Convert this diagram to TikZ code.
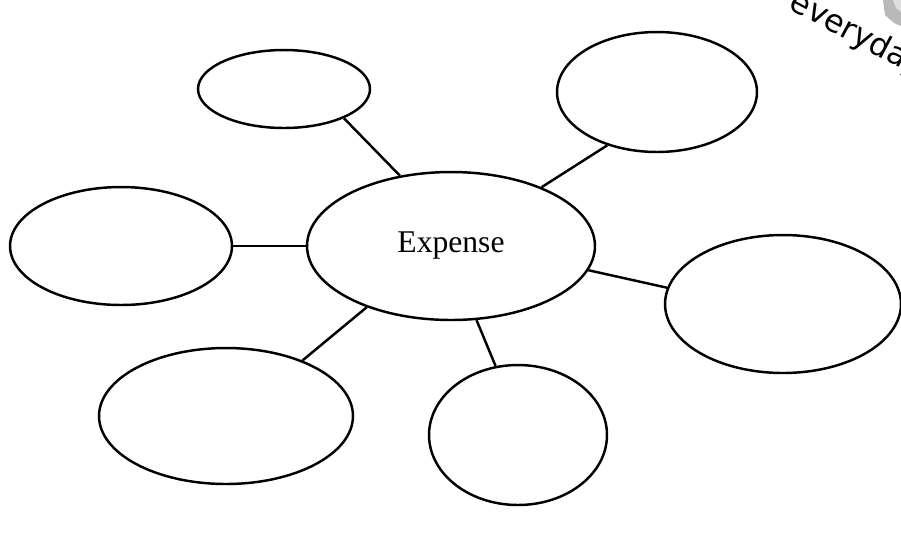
\documentclass[tikz,border=0pt]{standalone}
\usepackage{fontspec}
\setmainfont{Liberation Serif}
\newfontfamily\handfont{DejaVu Sans}
\usetikzlibrary{shapes.geometric}
\tikzset{
  bubble/.style={ellipse, draw=black, line width=1.4pt, fill=white, inner sep=0pt},
  spoke/.style={black, line width=1.4pt},
  hub/.style={bubble, font=\fontsize{18}{21}\selectfont},
}

\begin{document}
\begin{tikzpicture}[x=0.02cm, y=-0.02cm]
  \clip (0,0) rectangle (901,532);
  \useasboundingbox (0,0) rectangle (901,532);
  % corner tag
  \fill[gray!55] (883,0) -- (901,0) -- (901,26) -- (894,23) -- (885,15) -- cycle;
  \fill[gray!25] (893,0) -- (901,0) -- (901,12) -- (896,8) -- cycle;
  \node[font=\handfont\fontsize{18}{20}\selectfont, anchor=base, rotate=-28] (tag) at (853,43) {everyday};
  % hub and the six empty bubbles
  \node[hub, minimum width=5.76cm, minimum height=2.96cm] (exp) at (451,246) {Expense};
  \node[bubble, minimum width=3.44cm, minimum height=1.56cm] (tl) at (284,89) {};
  \node[bubble, minimum width=4.0cm, minimum height=2.4cm] (tr) at (657,92) {};
  \node[bubble, minimum width=4.44cm, minimum height=2.36cm] (lf) at (121,246) {};
  \node[bubble, minimum width=4.72cm, minimum height=2.76cm] (rt) at (783,304) {};
  \node[bubble, minimum width=5.08cm, minimum height=2.72cm] (bl) at (226,416) {};
  \node[bubble, minimum width=3.56cm, minimum height=2.8cm] (bm) at (518,435) {};
  % spokes
  \draw[spoke] (exp.126) -- (tl.334);
  \draw[spoke] (exp.33) -- (tr.227);
  \draw[spoke] (exp.180) -- (lf.0);
  \draw[spoke] (exp.350) -- (rt.172);
  \draw[spoke] (exp.216) -- (bl.36);
  \draw[spoke] (exp.289) -- (bm.108);
\end{tikzpicture}
\end{document}
